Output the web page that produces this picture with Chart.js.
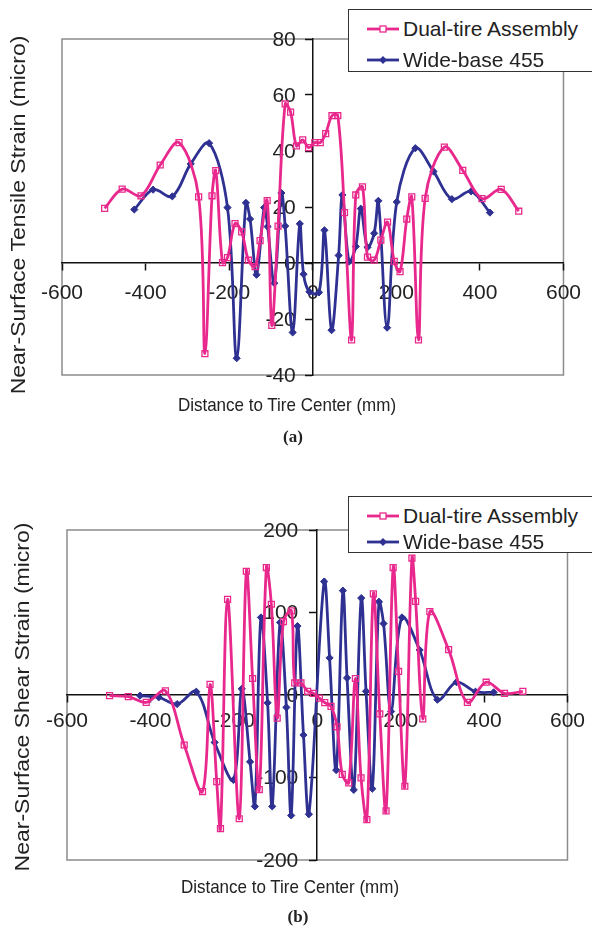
<!DOCTYPE html>
<html>
<head>
<meta charset="utf-8">
<script src="https://cdn.jsdelivr.net/npm/chart.js@4.4.0/dist/chart.umd.min.js"></script>
<style>
  body { margin: 0; background: #fff; width: 592px; height: 936px; position: relative; overflow: hidden;
         font-family: "Liberation Sans", Arial, sans-serif; color: #222; }
  canvas { position: absolute; left: 0; }
  #chartA { top: 0; }
  #chartB { top: 468px; }
  .legend { position: absolute; left: 348px; width: 270px; background: #fff; border: 1.5px solid #333;
            box-sizing: border-box; font-size: 21px; }
  .legend .row { position: absolute; left: 0; height: 26px; line-height: 26px; white-space: nowrap; }
  .legend svg { position: absolute; left: 18px; top: 7px; }
  .legend span { position: absolute; left: 54px; }
  .ytitle, .xtitle, .tag { position: absolute; white-space: nowrap; }
  .ytitle { font-size: 20px; transform: translate(-50%, -50%) rotate(-90deg) scaleX(1.15); }
  .xtitle { font-size: 17px; transform: translate(-50%, -50%) scaleY(1.08); }
  .tag { font-family: "Liberation Serif", serif; font-weight: bold; font-size: 17px; transform: translate(-50%, -50%); }
</style>
</head>
<body>
<canvas id="chartA" width="592" height="468"></canvas>
<canvas id="chartB" width="592" height="468"></canvas>

<div class="legend" style="top:9px;height:63px">
  <div class="row" style="top:6px"><svg width="32" height="12"><line x1="0" y1="6" x2="32" y2="6" stroke="#E8288C" stroke-width="2.8"/><rect x="13" y="3" width="6" height="6" fill="#fff" stroke="#E8288C" stroke-width="1.3"/></svg><span>Dual-tire Assembly</span></div>
  <div class="row" style="top:37px"><svg width="32" height="12"><line x1="0" y1="6" x2="32" y2="6" stroke="#2E3192" stroke-width="2.8"/><polygon points="16,2 20,6 16,10 12,6" fill="#2E3192"/></svg><span>Wide-base 455</span></div>
</div>
<div class="legend" style="top:496px;height:57px">
  <div class="row" style="top:6px"><svg width="32" height="12"><line x1="0" y1="6" x2="32" y2="6" stroke="#E8288C" stroke-width="2.8"/><rect x="13" y="3" width="6" height="6" fill="#fff" stroke="#E8288C" stroke-width="1.3"/></svg><span>Dual-tire Assembly</span></div>
  <div class="row" style="top:32px"><svg width="32" height="12"><line x1="0" y1="6" x2="32" y2="6" stroke="#2E3192" stroke-width="2.8"/><polygon points="16,2 20,6 16,10 12,6" fill="#2E3192"/></svg><span>Wide-base 455</span></div>
</div>

<div class="ytitle" style="left:18px;top:215px">Near-Surface Tensile Strain (micro)</div>
<div class="xtitle" style="left:287px;top:406px">Distance to Tire Center (mm)</div>
<div class="tag" style="left:293px;top:437px">(a)</div>

<div class="ytitle" style="left:22px;top:697px">Near-Surface Shear Strain (micro)</div>
<div class="xtitle" style="left:290px;top:888px">Distance to Tire Center (mm)</div>
<div class="tag" style="left:298px;top:917px">(b)</div>

<script>
// distance ticks shared by both panels
const distanceTicks = [-600, -400, -200, 0, 200, 400, 600];
const tensileTicks = [-40, -20, 0, 20, 40, 60, 80];
const shearTicks = [-200, -100, 0, 100, 200];

// (a) tensile strain
const tensileDualX = [-498, -456, -411, -365, -320, -273, -258, -241, -232, -216, -204, -186, -170, -154, -138, -126,
  -109, -98, -83, -66, -53, -39, -24, -10, 5, 18, 31, 46, 60, 76, 93, 103, 119, 131, 147, 163, 179, 195, 209, 225,
  237, 253, 269, 315, 359, 405, 451, 493];
const tensileDualY = [19.5, 26.4, 24, 35, 43, 23.6, -32.4, 24, 33, 0.1, 1.9, 14.1, 11.1, 1, -1.3, 8,
  22.3, -22.3, 13.2, 56.8, 53.9, 41.8, 44, 41.2, 43, 43, 46.2, 52.6, 52.6, 18, -27.5, 24.3, 27.2, 2.1, 1, 8.2, 14.6, 0.6, -3.1, 15.7,
  23.6, -27.5, 23.1, 41.4, 33.1, 23, 26.3, 18.5];
const tensileWideX = [-427, -382, -336, -292, -248, -204, -182, -160, -150, -134.5, -116, -108, -92, -75, -66, -48,
  -31, -22, -8, 15, 28, 45, 62, 71, 87, 103, 115, 131, 147, 157, 178, 201, 245.5, 289, 333, 379, 424];
const tensileWideY = [19.1, 26.2, 23.8, 35.4, 42.8, 19.8, -34, 21.5, 15.7, -4.2, 19.8, 13, -7.2, 25, 13.2, -24.8,
  14, -4, -10.3, -10.5, 11.7, -24, 2.7, 24.3, 0.5, 5.9, 19.4, 5.6, 10.6, 22.2, -23.1, 21.8, 41, 32.7, 22.8, 25.6, 18];

// (b) shear strain
const shearDualX = [-498, -453, -410, -364, -319, -275, -257, -241, -232, -215, -187, -170, -155, -139, -122, -110,
  -96, -81, -62, -54, -39, -23, -9, 5, 18, 33, 47.5, 60, 75.5, 91.5, 105, 119, 134.6, 150, 165, 182, 195, 210,
  227, 236, 253, 270, 315, 360, 405, 449, 493];
const shearDualY = [-0.8, -2, -9, 5, -60.6, -117, 12.8, -105, -162, 116, -150, 150, 20, -114.6, 154.5, 110,
  -28, 89, 102, 14.6, 14.6, 4.5, 2, -3.8, -9.2, -13.8, -38.5, -96.2, -106.5, 20, -100.4, -151, 122.7, -23, -140.5, 154.5, 28.5, -110.6,
  166, 113.5, -29, 101, 55, -9, 15.5, 2, 4.5];
const shearWideX = [-425, -380, -336, -290, -246, -201, -181, -161, -149.5, -135, -119, -108, -89, -74, -62.5, -47.5,
  -33, -20, 16.5, 29.6, 45.4, 61.5, 71.5, 87.5, 105.5, 117, 132, 148, 159, 177, 203, 245.5, 288, 334, 379.5, 423];
const shearWideY = [-0.8, -2.8, -11, 4, -57.5, -103, 7.5, -81, -135, 94, -9.5, -135, 88, -15, -146, 83.5,
  -48.5, -144.5, 137.5, 45, -91, 126.5, 20.7, -115, 117.5, 4.5, -113.6, 113, 86.6, -20, 94, 54.5, -5.7, 15.5, 4, 3.2];

const PINK = '#E8288C';
const BLUE = '#2E3192';

function points(xs, ys) {
  return xs.map((x, i) => ({ x: x, y: ys[i] }));
}

// grey box round the plot area
const frame = {
  id: 'frame',
  beforeDraw(chart) {
    const { ctx, chartArea: a } = chart;
    ctx.save();
    ctx.strokeStyle = '#8c8c8c';
    ctx.lineWidth = 1.5;
    ctx.strokeRect(a.left, a.top, a.right - a.left, a.bottom - a.top);
    ctx.restore();
  }
};

// y tick labels, drawn a little left of the axis that crosses at x = 0
const yLabels = {
  id: 'yLabels',
  beforeDatasetsDraw(chart, args, opts) {
    const { ctx, scales: { x, y } } = chart;
    const ax = x.getPixelForValue(0);
    ctx.save();
    ctx.font = '21px "Liberation Sans", Arial, sans-serif';
    ctx.fillStyle = '#222';
    ctx.textAlign = 'right';
    ctx.textBaseline = 'middle';
    y.ticks.forEach(t => ctx.fillText(String(t.value), ax - opts.gap, y.getPixelForValue(t.value) + 1));
    ctx.restore();
  }
};

function makeChart(id, dual, wide, yMin, yMax, yTicks, pad, labelPad, gap) {
  const axisGrid = { drawOnChartArea: false, drawTicks: true, tickLength: 7, tickColor: '#111', tickWidth: 1.5 };
  return new Chart(document.getElementById(id), {
    type: 'scatter',
    data: {
      datasets: [{
        label: 'Dual-tire Assembly',
        data: dual,
        showLine: true,
        borderColor: PINK,
        borderWidth: 2.8,
        tension: 0.35,
        pointStyle: 'rect',
        pointRadius: 4.2,
        pointBorderWidth: 1.3,
        pointBorderColor: PINK,
        pointBackgroundColor: 'rgba(255,255,255,0)'
      }, {
        label: 'Wide-base 455',
        data: wide,
        showLine: true,
        borderColor: BLUE,
        borderWidth: 2.8,
        tension: 0.35,
        pointStyle: 'rectRot',
        pointRadius: 3.6,
        pointBorderWidth: 1,
        pointBorderColor: BLUE,
        pointBackgroundColor: BLUE
      }]
    },
    options: {
      responsive: false,
      animation: false,
      layout: { padding: pad },
      plugins: { legend: { display: false }, tooltip: { enabled: false }, yLabels: { gap: gap } },
      scales: {
        x: {
          type: 'linear', min: -600, max: 600,
          position: { y: 0 },
          afterBuildTicks: s => { s.ticks = distanceTicks.map(v => ({ value: v })); },
          grid: axisGrid,
          border: { color: '#111', width: 1.5 },
          ticks: { padding: labelPad, color: '#222', autoSkip: false, maxRotation: 0,
                   font: { family: '"Liberation Sans", Arial, sans-serif', size: 21 } }
        },
        y: {
          type: 'linear', min: yMin, max: yMax,
          position: { x: 0 },
          afterBuildTicks: s => { s.ticks = yTicks.map(v => ({ value: v })); },
          grid: axisGrid,
          border: { color: '#111', width: 1.5 },
          ticks: { display: false }
        }
      }
    },
    plugins: [frame, yLabels]
  });
}

makeChart('chartA', points(tensileDualX, tensileDualY), points(tensileWideX, tensileWideY),
  -40, 80, tensileTicks, { left: 62, right: 27, top: 39, bottom: 93 }, 11, 17);
makeChart('chartB', points(shearDualX, shearDualY), points(shearWideX, shearWideY),
  -200, 200, shearTicks, { left: 67, right: 21, top: 62, bottom: 76 }, 7, 19);
</script>
</body>
</html>
